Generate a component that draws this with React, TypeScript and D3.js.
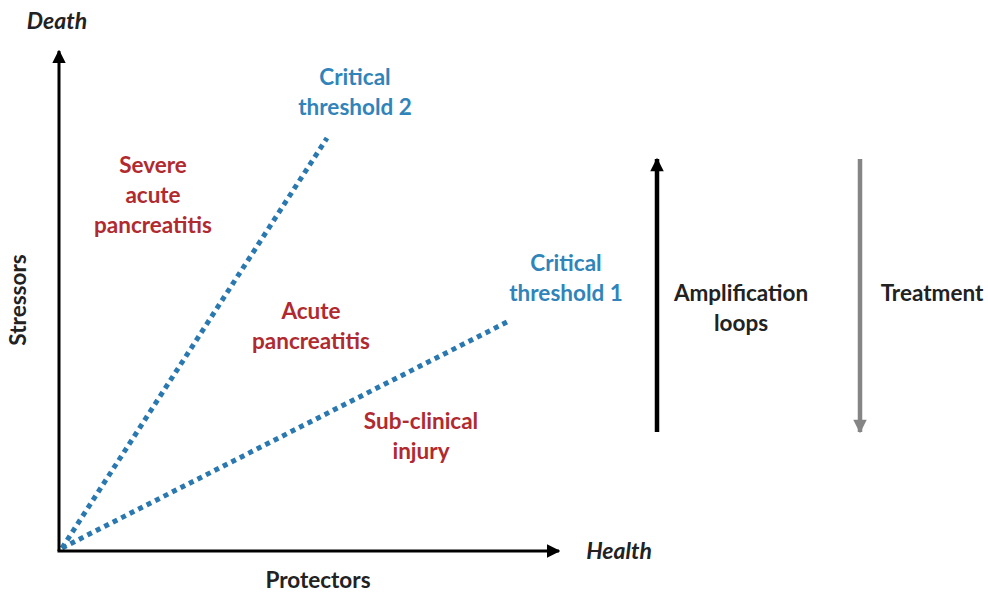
import React from "react";
import * as d3 from "d3";

const W = 988;
const H = 592;

// Data-space (0..100 on both axes for the plot)
const thresholds = [
  { name: "Critical threshold 2", lines: ["Critical", "threshold 2"], end: [53.6, 82.6], label: [59.2, 93.2] },
  { name: "Critical threshold 1", lines: ["Critical", "threshold 1"], end: [89.6, 45.8], label: [101.4, 56.0] },
];
const regions = [
  { lines: ["Severe", "acute", "pancreatitis"], at: [18.8, 75.6] },
  { lines: ["Acute", "pancreatitis"], at: [50.4, 46.4] },
  { lines: ["Sub-clinical", "injury"], at: [72.4, 24.4] },
];
const sideArrows = [
  { lines: ["Amplification", "loops"], x: 119.6, from: 23.8, to: 78.4, color: "#000000", labelX: 136.4 },
  { lines: ["Treatment"], x: 160.2, from: 78.4, to: 23.8, color: "#858585", labelX: 174.6 },
];
const labelY = 50.0;

export default function App() {
  const x = d3.scaleLinear().domain([0, 100]).range([59, 559]);
  const y = d3.scaleLinear().domain([0, 100]).range([551, 51]);
  const font = "Lato, 'Open Sans', sans-serif";
  const blue = "#3184b9";
  const dot = "#2a78b0";
  const red = "#b02a2f";
  const fs = 22.5;
  const lh = 30;
  const line = d3.line<number[]>().x((d) => x(d[0])).y((d) => y(d[1]));

  return (
    <svg width={W} height={H} style={{ position: "absolute", left: 0, top: 0, background: "#fff" }}>
      <defs>
        <marker id="ah" viewBox="0 0 10 10" refX="9" refY="5" markerWidth="4.5" markerHeight="4.5" orient="auto-start-reverse">
          <path d="M0,0 L10,5 L0,10 z" fill="#000" />
        </marker>
        <marker id="ahb" viewBox="0 0 10 10" refX="9" refY="5" markerWidth="3.4" markerHeight="3" orient="auto">
          <path d="M0,0 L10,5 L0,10 z" fill="#000" />
        </marker>
        <marker id="ahg" viewBox="0 0 10 10" refX="9" refY="5" markerWidth="3.4" markerHeight="3" orient="auto">
          <path d="M0,0 L10,5 L0,10 z" fill="#858585" />
        </marker>
      </defs>

      {/* threshold lines */}
      {thresholds.map((t) => (
        <path
          key={t.name}
          d={line([[0.6, 0.6], t.end]) || ""}
          stroke={dot}
          strokeWidth={5}
          strokeDasharray="5 4.5"
          fill="none"
        />
      ))}

      {/* axes */}
      <path d={`M${x(0)},${y(0)} L${x(0)},${y(100)}`} stroke="#000" strokeWidth={3} markerEnd="url(#ah)" fill="none" />
      <path d={`M${x(0) - 1.5},${y(0)} L${x(100)},${y(0)}`} stroke="#000" strokeWidth={3} markerEnd="url(#ah)" fill="none" />

      <text x={57} y={29} textAnchor="middle" fontFamily={font} fontWeight={700} fontStyle="italic" fontSize={23} fill="#222">Death</text>
      <text x={619} y={559} textAnchor="middle" fontFamily={font} fontWeight={700} fontStyle="italic" fontSize={23} fill="#222">Health</text>
      <text x={318} y={588} textAnchor="middle" fontFamily={font} fontWeight={700} fontSize={fs} fill="#222">Protectors</text>
      <text transform="translate(26,300) rotate(-90)" textAnchor="middle" fontFamily={font} fontWeight={700} fontSize={fs} fill="#222">Stressors</text>

      {thresholds.map((t) => (
        <text key={t.name + "l"} textAnchor="middle" fontFamily={font} fontWeight={700} fontSize={fs} fill={blue}>
          {t.lines.map((s, i) => (
            <tspan key={i} x={x(t.label[0])} y={y(t.label[1]) + i * lh}>{s}</tspan>
          ))}
        </text>
      ))}

      {regions.map((r, k) => (
        <text key={k} textAnchor="middle" fontFamily={font} fontWeight={700} fontSize={fs} fill={red}>
          {r.lines.map((s, i) => (
            <tspan key={i} x={x(r.at[0])} y={y(r.at[1]) + i * lh}>{s}</tspan>
          ))}
        </text>
      ))}

      {sideArrows.map((a, k) => (
        <g key={k}>
          <path
            d={`M${x(a.x)},${y(a.from)} L${x(a.x)},${y(a.to)}`}
            stroke={a.color}
            strokeWidth={4.5}
            fill="none"
            markerEnd={k === 0 ? "url(#ahb)" : "url(#ahg)"}
          />
          <text textAnchor="middle" fontFamily={font} fontWeight={700} fontSize={fs} fill="#222">
            {a.lines.map((s, i) => (
              <tspan key={i} x={x(a.labelX)} y={y(labelY) + i * lh}>{s}</tspan>
            ))}
          </text>
        </g>
      ))}
    </svg>
  );
}
